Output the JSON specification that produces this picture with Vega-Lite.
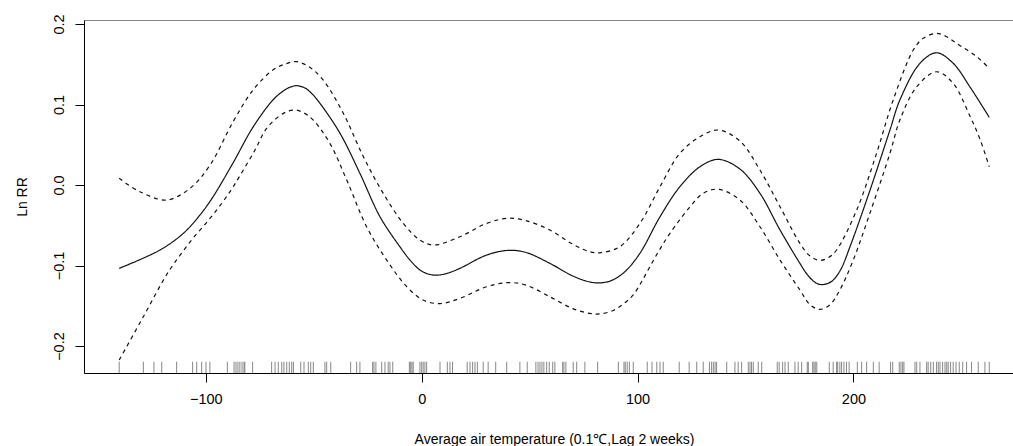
{
  "$schema": "https://vega.github.io/schema/vega-lite/v6.json",
  "autosize": {"type": "none"},
  "padding": {"left": 84, "top": 20, "right": 0, "bottom": 73},
  "width": 929,
  "height": 353,
  "background": "white",
  "config": {
    "view": {"stroke": "#888888", "strokeWidth": 1},
    "font": "Liberation Sans",
    "axis": {"grid": false, "domainColor": "#000000", "tickColor": "#000000", "labelColor": "#000000", "titleColor": "#000000", "labelFont": "Liberation Sans", "titleFont": "Liberation Sans", "titleFontWeight": "normal"}
  },
  "datasets": {
    "curves": [
      {"t": -140.1, "lnrr": -0.1035, "band": "fit"},
      {"t": -121.2, "lnrr": -0.0807, "band": "fit"},
      {"t": -110.4, "lnrr": -0.060, "band": "fit"},
      {"t": -102.7, "lnrr": -0.0373, "band": "fit"},
      {"t": -96.7, "lnrr": -0.0149, "band": "fit"},
      {"t": -87.4, "lnrr": 0.0273, "band": "fit"},
      {"t": -78.1, "lnrr": 0.072, "band": "fit"},
      {"t": -68.9, "lnrr": 0.1056, "band": "fit"},
      {"t": -64.0, "lnrr": 0.117, "band": "fit"},
      {"t": -61.0, "lnrr": 0.1215, "band": "fit"},
      {"t": -58.0, "lnrr": 0.1234, "band": "fit"},
      {"t": -54.0, "lnrr": 0.1205, "band": "fit"},
      {"t": -50.5, "lnrr": 0.1125, "band": "fit"},
      {"t": -47.1, "lnrr": 0.1015, "band": "fit"},
      {"t": -37.8, "lnrr": 0.0642, "band": "fit"},
      {"t": -28.6, "lnrr": 0.0145, "band": "fit"},
      {"t": -19.3, "lnrr": -0.0394, "band": "fit"},
      {"t": -10.1, "lnrr": -0.0766, "band": "fit"},
      {"t": -5.0, "lnrr": -0.0945, "band": "fit"},
      {"t": -0.8, "lnrr": -0.1055, "band": "fit"},
      {"t": 3.0, "lnrr": -0.1105, "band": "fit"},
      {"t": 7.0, "lnrr": -0.1120, "band": "fit"},
      {"t": 12.0, "lnrr": -0.1095, "band": "fit"},
      {"t": 17.7, "lnrr": -0.1035, "band": "fit"},
      {"t": 30.1, "lnrr": -0.087, "band": "fit"},
      {"t": 40.0, "lnrr": -0.0812, "band": "fit"},
      {"t": 48.0, "lnrr": -0.0835, "band": "fit"},
      {"t": 59.4, "lnrr": -0.0973, "band": "fit"},
      {"t": 70.0, "lnrr": -0.1130, "band": "fit"},
      {"t": 78.0, "lnrr": -0.1205, "band": "fit"},
      {"t": 83.0, "lnrr": -0.1215, "band": "fit"},
      {"t": 88.0, "lnrr": -0.1185, "band": "fit"},
      {"t": 94.0, "lnrr": -0.1080, "band": "fit"},
      {"t": 101.1, "lnrr": -0.0848, "band": "fit"},
      {"t": 110.4, "lnrr": -0.0394, "band": "fit"},
      {"t": 119.6, "lnrr": -0.0021, "band": "fit"},
      {"t": 128.9, "lnrr": 0.0227, "band": "fit"},
      {"t": 137.4, "lnrr": 0.0319, "band": "fit"},
      {"t": 147.4, "lnrr": 0.0199, "band": "fit"},
      {"t": 156.7, "lnrr": -0.0103, "band": "fit"},
      {"t": 166.0, "lnrr": -0.0559, "band": "fit"},
      {"t": 175.2, "lnrr": -0.0973, "band": "fit"},
      {"t": 179.0, "lnrr": -0.1125, "band": "fit"},
      {"t": 183.0, "lnrr": -0.1222, "band": "fit"},
      {"t": 186.0, "lnrr": -0.1236, "band": "fit"},
      {"t": 190.0, "lnrr": -0.1195, "band": "fit"},
      {"t": 194.0, "lnrr": -0.1055, "band": "fit"},
      {"t": 198.4, "lnrr": -0.0766, "band": "fit"},
      {"t": 207.7, "lnrr": -0.0062, "band": "fit"},
      {"t": 216.9, "lnrr": 0.0683, "band": "fit"},
      {"t": 221.5, "lnrr": 0.1056, "band": "fit"},
      {"t": 230.8, "lnrr": 0.1512, "band": "fit"},
      {"t": 238.5, "lnrr": 0.1643, "band": "fit"},
      {"t": 246.2, "lnrr": 0.1512, "band": "fit"},
      {"t": 253.9, "lnrr": 0.1221, "band": "fit"},
      {"t": 262.9, "lnrr": 0.0841, "band": "fit"},

      {"t": -140.1, "lnrr": 0.0083, "band": "upper"},
      {"t": -130.5, "lnrr": -0.0083, "band": "upper"},
      {"t": -118.1, "lnrr": -0.0186, "band": "upper"},
      {"t": -107.3, "lnrr": -0.0041, "band": "upper"},
      {"t": -98.0, "lnrr": 0.0248, "band": "upper"},
      {"t": -87.4, "lnrr": 0.0783, "band": "upper"},
      {"t": -78.1, "lnrr": 0.118, "band": "upper"},
      {"t": -68.9, "lnrr": 0.1429, "band": "upper"},
      {"t": -63.0, "lnrr": 0.1505, "band": "upper"},
      {"t": -57.9, "lnrr": 0.1532, "band": "upper"},
      {"t": -52.0, "lnrr": 0.1465, "band": "upper"},
      {"t": -45.6, "lnrr": 0.1304, "band": "upper"},
      {"t": -36.3, "lnrr": 0.0891, "band": "upper"},
      {"t": -27.0, "lnrr": 0.0352, "band": "upper"},
      {"t": -17.8, "lnrr": -0.0103, "band": "upper"},
      {"t": -8.5, "lnrr": -0.0476, "band": "upper"},
      {"t": -0.8, "lnrr": -0.0683, "band": "upper"},
      {"t": 5.4, "lnrr": -0.0745, "band": "upper"},
      {"t": 17.7, "lnrr": -0.0642, "band": "upper"},
      {"t": 30.1, "lnrr": -0.0476, "band": "upper"},
      {"t": 40.0, "lnrr": -0.0412, "band": "upper"},
      {"t": 48.0, "lnrr": -0.0440, "band": "upper"},
      {"t": 59.4, "lnrr": -0.0559, "band": "upper"},
      {"t": 70.0, "lnrr": -0.0735, "band": "upper"},
      {"t": 78.0, "lnrr": -0.0830, "band": "upper"},
      {"t": 83.0, "lnrr": -0.0840, "band": "upper"},
      {"t": 91.8, "lnrr": -0.0766, "band": "upper"},
      {"t": 101.1, "lnrr": -0.0476, "band": "upper"},
      {"t": 110.4, "lnrr": -0.0021, "band": "upper"},
      {"t": 119.6, "lnrr": 0.0394, "band": "upper"},
      {"t": 128.9, "lnrr": 0.06, "band": "upper"},
      {"t": 137.4, "lnrr": 0.0683, "band": "upper"},
      {"t": 147.4, "lnrr": 0.0547, "band": "upper"},
      {"t": 156.7, "lnrr": 0.0186, "band": "upper"},
      {"t": 166.0, "lnrr": -0.027, "band": "upper"},
      {"t": 175.2, "lnrr": -0.0724, "band": "upper"},
      {"t": 180.0, "lnrr": -0.0885, "band": "upper"},
      {"t": 184.5, "lnrr": -0.0935, "band": "upper"},
      {"t": 188.5, "lnrr": -0.0900, "band": "upper"},
      {"t": 192.2, "lnrr": -0.0807, "band": "upper"},
      {"t": 201.5, "lnrr": -0.0311, "band": "upper"},
      {"t": 210.7, "lnrr": 0.0394, "band": "upper"},
      {"t": 218.4, "lnrr": 0.1056, "band": "upper"},
      {"t": 227.7, "lnrr": 0.1677, "band": "upper"},
      {"t": 232.3, "lnrr": 0.1822, "band": "upper"},
      {"t": 238.5, "lnrr": 0.1884, "band": "upper"},
      {"t": 243.0, "lnrr": 0.1845, "band": "upper"},
      {"t": 247.8, "lnrr": 0.1760, "band": "upper"},
      {"t": 257.1, "lnrr": 0.1594, "band": "upper"},
      {"t": 262.9, "lnrr": 0.145, "band": "upper"},

      {"t": -140.1, "lnrr": -0.2174, "band": "lower"},
      {"t": -129.0, "lnrr": -0.1640, "band": "lower"},
      {"t": -118.1, "lnrr": -0.1112, "band": "lower"},
      {"t": -112.0, "lnrr": -0.0875, "band": "lower"},
      {"t": -105.8, "lnrr": -0.0658, "band": "lower"},
      {"t": -99.0, "lnrr": -0.0445, "band": "lower"},
      {"t": -93.4, "lnrr": -0.0257, "band": "lower"},
      {"t": -88.0, "lnrr": -0.0050, "band": "lower"},
      {"t": -84.2, "lnrr": 0.0115, "band": "lower"},
      {"t": -77.2, "lnrr": 0.0435, "band": "lower"},
      {"t": -71.8, "lnrr": 0.0704, "band": "lower"},
      {"t": -64.1, "lnrr": 0.089, "band": "lower"},
      {"t": -58.7, "lnrr": 0.0932, "band": "lower"},
      {"t": -54.5, "lnrr": 0.0895, "band": "lower"},
      {"t": -50.2, "lnrr": 0.0807, "band": "lower"},
      {"t": -42.5, "lnrr": 0.0518, "band": "lower"},
      {"t": -34.7, "lnrr": 0.0062, "band": "lower"},
      {"t": -25.5, "lnrr": -0.0518, "band": "lower"},
      {"t": -16.2, "lnrr": -0.0932, "band": "lower"},
      {"t": -6.9, "lnrr": -0.1263, "band": "lower"},
      {"t": 0.7, "lnrr": -0.1429, "band": "lower"},
      {"t": 8.5, "lnrr": -0.1473, "band": "lower"},
      {"t": 17.7, "lnrr": -0.1408, "band": "lower"},
      {"t": 30.1, "lnrr": -0.1263, "band": "lower"},
      {"t": 40.0, "lnrr": -0.1212, "band": "lower"},
      {"t": 48.0, "lnrr": -0.1240, "band": "lower"},
      {"t": 59.4, "lnrr": -0.1388, "band": "lower"},
      {"t": 70.0, "lnrr": -0.1535, "band": "lower"},
      {"t": 78.0, "lnrr": -0.1595, "band": "lower"},
      {"t": 83.0, "lnrr": -0.1600, "band": "lower"},
      {"t": 89.0, "lnrr": -0.1555, "band": "lower"},
      {"t": 94.0, "lnrr": -0.1465, "band": "lower"},
      {"t": 98.0, "lnrr": -0.1365, "band": "lower"},
      {"t": 101.8, "lnrr": -0.1205, "band": "lower"},
      {"t": 105.7, "lnrr": -0.1015, "band": "lower"},
      {"t": 110.3, "lnrr": -0.0800, "band": "lower"},
      {"t": 115.0, "lnrr": -0.06, "band": "lower"},
      {"t": 124.3, "lnrr": -0.027, "band": "lower"},
      {"t": 130.4, "lnrr": -0.0103, "band": "lower"},
      {"t": 137.4, "lnrr": -0.0053, "band": "lower"},
      {"t": 147.4, "lnrr": -0.0186, "band": "lower"},
      {"t": 156.7, "lnrr": -0.0518, "band": "lower"},
      {"t": 166.0, "lnrr": -0.0932, "band": "lower"},
      {"t": 175.2, "lnrr": -0.1304, "band": "lower"},
      {"t": 180.0, "lnrr": -0.1490, "band": "lower"},
      {"t": 184.5, "lnrr": -0.1545, "band": "lower"},
      {"t": 189.0, "lnrr": -0.1490, "band": "lower"},
      {"t": 193.7, "lnrr": -0.1304, "band": "lower"},
      {"t": 199.9, "lnrr": -0.0932, "band": "lower"},
      {"t": 207.6, "lnrr": -0.0352, "band": "lower"},
      {"t": 216.9, "lnrr": 0.0394, "band": "lower"},
      {"t": 221.5, "lnrr": 0.0807, "band": "lower"},
      {"t": 229.3, "lnrr": 0.1221, "band": "lower"},
      {"t": 238.5, "lnrr": 0.1407, "band": "lower"},
      {"t": 246.2, "lnrr": 0.1263, "band": "lower"},
      {"t": 253.9, "lnrr": 0.0860, "band": "lower"},
      {"t": 258.6, "lnrr": 0.0570, "band": "lower"},
      {"t": 262.9, "lnrr": 0.0227, "band": "lower"}
    ],
    "rug": [
      {"t": -140.1}, {"t": -128.9}, {"t": -124.0}, {"t": -120.4}, {"t": -113.5}, {"t": -106.1}, {"t": -104.2}, {"t": -101.9}, {"t": -99.9}, {"t": -98.1},
      {"t": -90.0}, {"t": -86.9}, {"t": -86.0}, {"t": -85.1}, {"t": -84.2}, {"t": -83.2}, {"t": -82.3}, {"t": -81.9}, {"t": -78.3},
      {"t": -69.5}, {"t": -67.9}, {"t": -66.4}, {"t": -64.8}, {"t": -63.8}, {"t": -62.5}, {"t": -61.3}, {"t": -60.2}, {"t": -59.4},
      {"t": -56.0}, {"t": -54.5}, {"t": -52.5}, {"t": -51.4}, {"t": -50.2}, {"t": -44.8}, {"t": -44.0}, {"t": -42.1},
      {"t": -32.9}, {"t": -30.1}, {"t": -28.6}, {"t": -22.7}, {"t": -22.1}, {"t": -21.2}, {"t": -18.5}, {"t": -17.0}, {"t": -15.5}, {"t": -14.7}, {"t": -13.4},
      {"t": -5.7}, {"t": -5.1}, {"t": -4.5}, {"t": -3.9}, {"t": -0.8}, {"t": 0.0}, {"t": 0.7}, {"t": 1.5}, {"t": 2.3},
      {"t": 8.5}, {"t": 11.9}, {"t": 13.1}, {"t": 14.3}, {"t": 21.1}, {"t": 22.4}, {"t": 23.6}, {"t": 24.7}, {"t": 25.8}, {"t": 28.5}, {"t": 30.8}, {"t": 34.3},
      {"t": 39.4}, {"t": 45.5}, {"t": 48.9}, {"t": 52.9}, {"t": 53.9}, {"t": 54.8}, {"t": 55.7}, {"t": 56.6}, {"t": 57.9}, {"t": 59.1}, {"t": 60.7}, {"t": 61.7},
      {"t": 65.3}, {"t": 65.9}, {"t": 66.8}, {"t": 70.2}, {"t": 71.8}, {"t": 75.6}, {"t": 81.5},
      {"t": 91.1}, {"t": 93.7}, {"t": 94.3}, {"t": 95.2}, {"t": 96.2}, {"t": 98.0}, {"t": 104.5}, {"t": 106.7}, {"t": 108.9}, {"t": 110.4}, {"t": 111.9},
      {"t": 119.3}, {"t": 123.9}, {"t": 127.4}, {"t": 130.4}, {"t": 133.3}, {"t": 134.3}, {"t": 135.1}, {"t": 135.9}, {"t": 136.6},
      {"t": 141.3}, {"t": 145.1}, {"t": 146.6}, {"t": 148.2}, {"t": 151.3}, {"t": 152.1}, {"t": 152.8}, {"t": 153.6}, {"t": 155.9}, {"t": 157.5},
      {"t": 164.7}, {"t": 165.6}, {"t": 167.2}, {"t": 168.3}, {"t": 169.8}, {"t": 172.9}, {"t": 174.4}, {"t": 176.0}, {"t": 178.6}, {"t": 179.1},
      {"t": 181.1}, {"t": 181.7}, {"t": 182.3}, {"t": 183.0}, {"t": 188.8}, {"t": 190.6}, {"t": 192.2}, {"t": 192.7}, {"t": 193.7}, {"t": 194.5}, {"t": 195.6}, {"t": 196.8}, {"t": 198.0},
      {"t": 201.8}, {"t": 203.8}, {"t": 206.1}, {"t": 209.2}, {"t": 211.9}, {"t": 217.2}, {"t": 218.2}, {"t": 221.2}, {"t": 222.0}, {"t": 222.8}, {"t": 223.4},
      {"t": 228.5}, {"t": 229.3}, {"t": 230.8}, {"t": 233.9}, {"t": 234.6}, {"t": 235.8}, {"t": 237.0}, {"t": 238.5}, {"t": 239.3}, {"t": 240.1}, {"t": 241.3},
      {"t": 242.4}, {"t": 243.2}, {"t": 243.9}, {"t": 245.0}, {"t": 246.2}, {"t": 247.5}, {"t": 249.0}, {"t": 250.6}, {"t": 252.4}, {"t": 254.7}, {"t": 257.8}, {"t": 260.9}, {"t": 262.9}
    ]
  },
  "layer": [
    {
      "data": {"name": "rug"},
      "mark": {"type": "rule", "color": "#444444", "strokeWidth": 0.8, "opacity": 0.8},
      "encoding": {
        "x": {"field": "t", "type": "quantitative", "scale": {"domain": [-156.4, 273.9], "nice": false, "zero": false}},
        "y": {"datum": -0.2195, "type": "quantitative"},
        "y2": {"datum": -0.2335}
      }
    },
    {
      "data": {"name": "curves"},
      "mark": {"type": "line", "color": "#111111", "strokeWidth": 1.2, "interpolate": "catmull-rom"},
      "encoding": {
        "x": {
          "field": "t", "type": "quantitative",
          "scale": {"domain": [-156.4, 273.9], "nice": false, "zero": false},
          "axis": {"values": [-100, 0, 100, 200], "format": "d", "tickSize": 9, "labelPadding": 10, "labelFontSize": 14.5, "title": "Average air temperature (0.1℃,Lag 2 weeks)", "titleFontSize": 14, "titleX": 470, "titleY": 70.5, "titleBaseline": "alphabetic", "domainWidth": 1, "tickWidth": 1}
        },
        "y": {
          "field": "lnrr", "type": "quantitative",
          "scale": {"domain": [-0.2335, 0.205], "nice": false, "zero": false},
          "axis": {"values": [-0.2, -0.1, 0, 0.1, 0.2], "format": ".1f", "tickSize": 9, "labelPadding": 12, "labelAngle": -90, "labelAlign": "center", "labelBaseline": "alphabetic", "labelFontSize": 14.5, "title": "Ln RR", "titleFontSize": 14, "titleAngle": -90, "titleX": -58, "titleY": 176.5, "titleAlign": "center", "titleBaseline": "alphabetic", "domainWidth": 1, "tickWidth": 1}
        },
        "detail": {"field": "band"},
        "strokeDash": {"field": "band", "type": "nominal", "scale": {"domain": ["fit", "upper", "lower"], "range": [[1, 0], [4, 4], [4, 4]]}, "legend": null}
      }
    }
  ]
}
